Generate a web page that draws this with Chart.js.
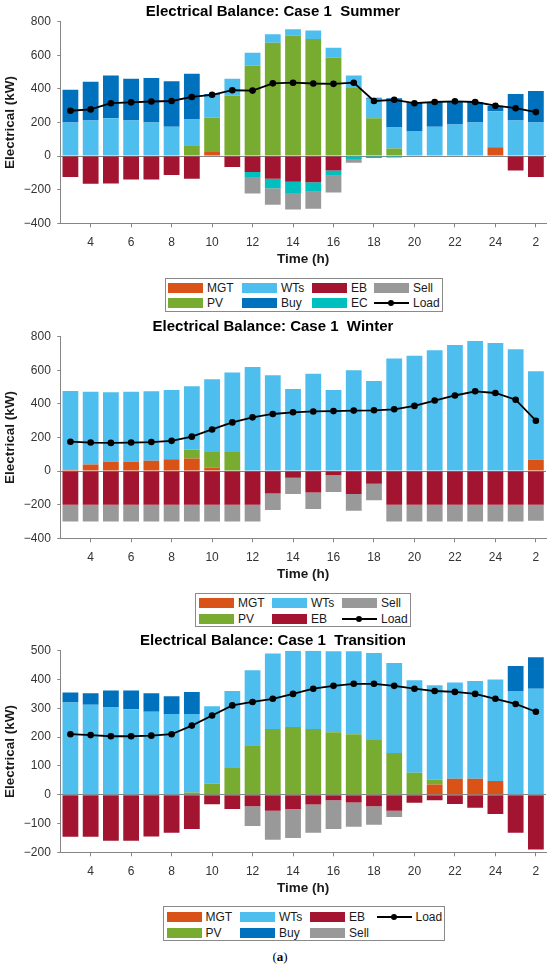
<!DOCTYPE html>
<html>
<head>
<meta charset="utf-8">
<script src="https://cdn.jsdelivr.net/npm/chart.js@4.4.0/dist/chart.umd.min.js"></script>
<style>
  html, body { margin:0; padding:0; background:#fff; }
  body { width:550px; height:969px; position:relative; overflow:hidden; font-family:"Liberation Sans", Arial, Helvetica, sans-serif; }
  .panel { position:absolute; left:0; width:550px; height:270px; }
  .legend { position:absolute; border:1px solid #8a8a8a; background:#fff; box-sizing:border-box; font-size:12px; color:#1a1a1a; }
  .item { position:absolute; display:flex; align-items:center; height:14px; transform:translateY(-50%); white-space:nowrap; }
  .sw { width:35px; height:10px; margin-right:4px; flex:none; }
  .ln { width:35px; height:10px; margin-right:4px; position:relative; flex:none; }
  .ln::before { content:""; position:absolute; left:0; right:0; top:4px; height:2px; background:#000; }
  .ln::after { content:""; position:absolute; left:14px; top:2px; width:6px; height:6px; border-radius:50%; background:#000; }
  .cap { position:absolute; left:0; width:560px; top:949px; text-align:center; font-family:"Liberation Serif", "Times New Roman", serif; font-size:13px; color:#000; }
</style>
</head>
<body>
<div class="panel" style="top:0px"><canvas id="c1" width="550" height="270"></canvas></div>
<div class="panel" style="top:315px"><canvas id="c2" width="550" height="270"></canvas></div>
<div class="panel" style="top:629px"><canvas id="c3" width="550" height="270"></canvas></div>
<div id="lg1" class="legend" style="left:165px;top:278px;width:278px;height:34px"></div>
<div id="lg2" class="legend" style="left:195px;top:593px;width:216px;height:34px"></div>
<div id="lg3" class="legend" style="left:163px;top:906px;width:282px;height:35px"></div>
<div class="cap">(<b>a</b>)</div>
<script>
// ---------- categories / tick labels ----------
const hours = ['3','4','5','6','7','8','9','10','11','12','13','14','15','16','17','18','19','20','21','22','23','24','1','2'];
const shownHourTicks = ['4','6','8','10','12','14','16','18','20','22','24','2'];

// ---------- Summer ----------
const summerMGT  = [0,0,0,0,0,0,0,25,0,0,0,0,0,0,0,0,0,0,0,0,0,52,0,0];
const summerPV   = [0,0,0,0,0,0,65,203,360,540,675,718,697,585,405,225,45,0,0,0,0,0,0,0];
const summerWTs  = [200,212,225,212,200,175,153,135,100,75,50,37,50,60,75,117,125,150,175,188,200,215,212,200];
const summerBuy  = [195,230,255,248,265,270,272,6,0,0,0,0,0,0,0,6,175,167,145,137,122,32,157,188];
const summerEB   = [-125,-165,-163,-140,-140,-112,-135,0,-65,-95,-135,-152,-155,-85,0,0,0,0,0,0,0,0,-85,-125];
const summerEC   = [0,0,0,0,0,0,0,0,0,-30,-57,-68,-57,-32,-18,-12,-8,0,0,0,0,0,0,0];
const summerSell = [0,0,0,0,0,0,0,0,0,-98,-98,-98,-102,-99,-22,0,0,0,0,0,0,0,0,0];
const summerLoad = [270,278,315,320,325,328,352,365,392,390,433,437,432,430,437,328,335,315,322,326,322,300,285,262];

// ---------- Winter ----------
const winterMGT  = [8,40,55,55,62,70,75,20,0,0,0,0,0,0,0,0,0,0,0,0,0,0,0,68];
const winterPV   = [0,0,0,0,0,0,53,93,113,0,0,0,0,0,0,0,0,0,0,0,0,0,0,0];
const winterWTs  = [469,432,415,417,414,412,377,433,474,620,570,488,580,483,600,537,670,687,720,750,775,763,725,527];
const winterEB   = [-200,-200,-200,-200,-200,-200,-200,-200,-200,-200,-133,-40,-128,-25,-137,-75,-200,-200,-200,-200,-200,-200,-200,-200];
const winterSell = [-100,-100,-100,-100,-100,-100,-100,-100,-100,-100,-98,-97,-98,-99,-99,-99,-100,-100,-100,-100,-100,-100,-100,-95];
const winterLoad = [175,170,168,170,173,180,205,248,290,320,340,350,355,357,360,362,368,388,420,450,475,465,425,300];

// ---------- Transition ----------
const transMGT  = [0,0,0,0,0,0,0,0,0,0,0,0,0,0,0,0,0,0,35,55,55,48,0,0];
const transPV   = [0,0,0,0,0,0,8,38,95,172,228,235,228,217,210,190,145,76,17,0,0,0,0,0];
const transWTs  = [320,312,303,297,288,280,272,269,265,260,262,265,272,281,288,302,312,321,328,335,340,352,360,368];
const transBuy  = [35,40,59,65,64,62,77,0,0,0,0,0,0,0,0,0,0,0,0,0,0,0,87,109];
const transEB   = [-146,-146,-160,-160,-145,-132,-119,-33,-50,-40,-56,-50,-34,-19,-27,-40,-56,-28,-19,-32,-45,-67,-132,-190];
const transSell = [0,0,0,0,0,0,0,0,0,-69,-100,-100,-98,-100,-84,-64,-21,0,0,0,0,0,0,0];
const transLoad = [210,207,203,203,205,210,240,275,310,322,333,350,368,378,385,385,378,368,360,357,350,333,315,288];

// ---------- styles ----------
const colors = { MGT:'#D95319', PV:'#77AC30', WTs:'#4DBEEE', Buy:'#0072BD', EB:'#A2142F', EC:'#00BFBF', Sell:'#999999' };
const stackOrder = ['MGT','PV','WTs','Buy','EB','EC','Sell'];
const FONT = '"Liberation Sans", Arial, Helvetica, sans-serif';
const AXIS = '#868686';

function fmt(v){ return (v < 0 ? '\u2212' + Math.abs(v) : String(v)); }

function makeChart(id, title, series, load, yMin, yMax, step){
  const datasets = [];
  stackOrder.forEach(k => {
    if (series[k]) datasets.push({
      type:'bar', label:k, data:series[k], backgroundColor:colors[k], borderWidth:0,
      stack:'s', order:1, barPercentage:0.78, categoryPercentage:1.0
    });
  });
  datasets.push({
    type:'line', label:'Load', data:load, borderColor:'#000', backgroundColor:'#000',
    borderWidth:1.8, pointRadius:3.3, pointBackgroundColor:'#000', pointBorderWidth:0,
    tension:0, stack:'load', order:0
  });
  return new Chart(document.getElementById(id), {
    data:{ labels:hours, datasets },
    options:{
      responsive:false, animation:false, devicePixelRatio: window.devicePixelRatio || 1,
      layout:{ padding:{ left:0, right:4, top:0, bottom:0 } },
      plugins:{
        legend:{ display:false }, tooltip:{ enabled:false },
        title:{ display:true, text:title, color:'#000', font:{ family:FONT, size:15, weight:'bold', lineHeight:1.2 }, padding:{ top:2.7, bottom:1 } }
      },
      scales:{
        x:{
          type:'category', stacked:true, offset:true,
          grid:{ display:true, drawOnChartArea:false, drawTicks:true, tickLength:4, color:(c)=> (c.tick && shownHourTicks.includes(c.tick.label) ? AXIS : 'rgba(0,0,0,0)'), offset:false },
          border:{ display:true, color:AXIS, width:1 },
          ticks:{ autoSkip:false, maxRotation:0, minRotation:0, padding:8, color:'#333', font:{ family:FONT, size:12 },
                  callback:function(v, i){ const l = hours[i]; return shownHourTicks.includes(l) ? l : ''; } },
          title:{ display:true, text:'Time (h)', color:'#1a1a1a', font:{ family:FONT, size:13.5, weight:'bold', lineHeight:1.2 }, padding:{ top:0, bottom:2.6 } },
          afterFit:(s)=>{ s.height = 46.7; }
        },
        y:{
          stacked:true, min:yMin, max:yMax,
          grid:{ drawOnChartArea:true, drawTicks:true, tickLength:3,
                 color:(c)=> (c.tick && c.tick.value === 0 ? AXIS : 'rgba(0,0,0,0)'),
                 tickColor:AXIS },
          border:{ display:true, color:AXIS, width:1 },
          ticks:{ stepSize:step, padding:6.5, color:'#333', font:{ family:FONT, size:12 }, callback:(v)=>fmt(v) },
          title:{ display:true, text:'Electrical (kW)', color:'#1a1a1a', font:{ family:FONT, size:13.5, weight:'bold', lineHeight:1.2 }, padding:{ top:2.4, bottom:0 } },
          afterFit:(s)=>{ s.width = 60.3; }
        }
      }
    }
  });
}

makeChart('c1', 'Electrical Balance: Case 1  Summer',
  { MGT:summerMGT, PV:summerPV, WTs:summerWTs, Buy:summerBuy, EB:summerEB, EC:summerEC, Sell:summerSell }, summerLoad, -400, 800, 200);
makeChart('c2', 'Electrical Balance: Case 1  Winter',
  { MGT:winterMGT, PV:winterPV, WTs:winterWTs, EB:winterEB, Sell:winterSell }, winterLoad, -400, 800, 200);
makeChart('c3', 'Electrical Balance: Case 1  Transition',
  { MGT:transMGT, PV:transPV, WTs:transWTs, Buy:transBuy, EB:transEB, Sell:transSell }, transLoad, -200, 500, 100);

// ---------- legends (HTML, MATLAB-style boxed, column-major) ----------
function buildLegend(id, cols, rows, items){
  const box = document.getElementById(id);
  items.forEach(([name, c, r]) => {
    const it = document.createElement('div');
    it.className = 'item';
    it.style.left = cols[c] + 'px';
    it.style.top = rows[r] + 'px';
    const sym = document.createElement('div');
    if (name === 'Load') { sym.className = 'ln'; }
    else { sym.className = 'sw'; sym.style.background = colors[name]; }
    const t = document.createElement('span');
    t.textContent = name;
    it.appendChild(sym); it.appendChild(t);
    box.appendChild(it);
  });
}
buildLegend('lg1', [2, 76, 146, 208], [9, 23.7],
  [['MGT',0,0],['PV',0,1],['WTs',1,0],['Buy',1,1],['EB',2,0],['EC',2,1],['Sell',3,0],['Load',3,1]]);
buildLegend('lg2', [3, 76, 146], [9.3, 25.3],
  [['MGT',0,0],['PV',0,1],['WTs',1,0],['EB',1,1],['Sell',2,0],['Load',2,1]]);
buildLegend('lg3', [2.5, 76, 146, 212.5], [10, 26],
  [['MGT',0,0],['PV',0,1],['WTs',1,0],['Buy',1,1],['EB',2,0],['Sell',2,1],['Load',3,0]]);
</script>
</body>
</html>
